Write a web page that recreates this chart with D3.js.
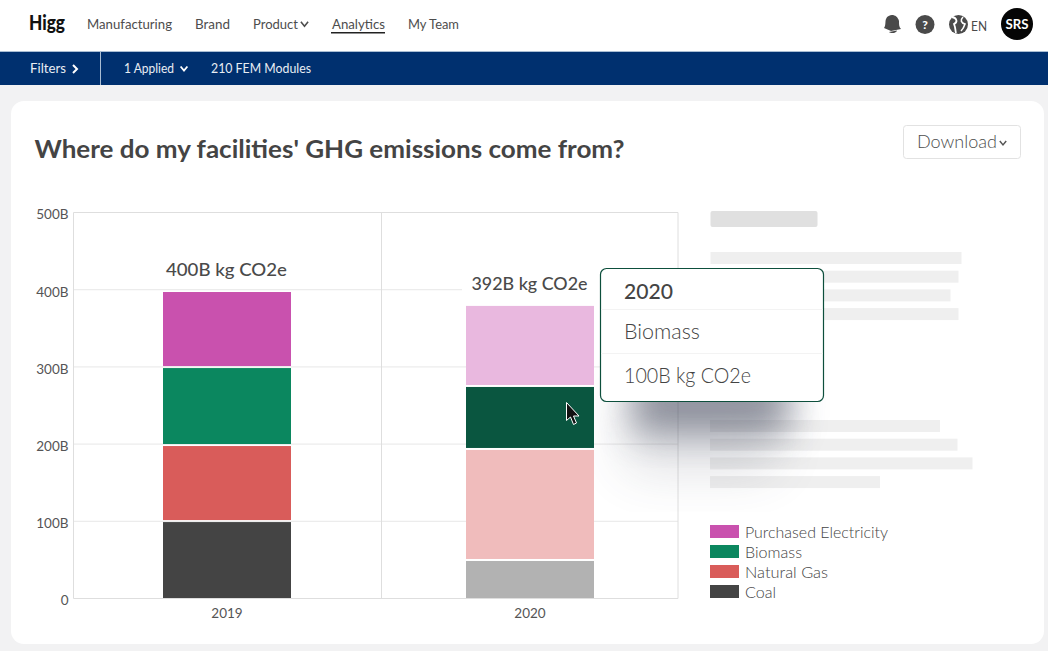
<!DOCTYPE html>
<html><head><meta charset="utf-8">
<script src="https://cdn.jsdelivr.net/npm/d3@7/dist/d3.min.js"></script>
<style>
html,body{margin:0;padding:0;background:#f2f2f3;overflow:hidden}
svg{display:block}
text{font-family:Lato,"Noto Sans",sans-serif}
</style></head><body>
<svg id="c" width="1048" height="651"></svg>
<script>
const years = ["2019","2020"];
const seriesNames = ["Coal","Natural Gas","Biomass","Purchased Electricity"];
const coal = [99, 48.6];
const naturalGas = [98.5, 143.8];
const biomass = [101, 81.6];
const purchasedElectricity = [98.5, 105];
const yTicks = [0,100,200,300,400,500];
const yTickLabels = ["0","100B","200B","300B","400B","500B"];
const totals = ["400B kg CO2e","392B kg CO2e"];
const legendOrder = ["Purchased Electricity","Biomass","Natural Gas","Coal"];
const colors = ["#444444","#d95c5a","#0b875f","#c951ae"];
const dimColors = ["#b2b2b2","#f0bcbc","#0a5640","#e9b8df"];
const navItems = ["Manufacturing","Brand","Product","Analytics","My Team"];

const svg = d3.select("#c");
const ink = "#4a4a4a";

function T(g,x,y,s,o={}){
  const t=g.append("text").attr("x",x).attr("y",y).text(s)
    .attr("font-size",o.size||13).attr("fill",o.fill||ink)
    .attr("font-weight",o.weight||400).attr("text-anchor",o.anchor||"start");
  if(o.len) t.attr("textLength",o.len).attr("lengthAdjust","spacingAndGlyphs");
  return t;
}
function R(g,x,y,w,h,f,r=0){return g.append("rect").attr("x",x).attr("y",y).attr("width",w).attr("height",h).attr("fill",f).attr("rx",r);}
function chevron(g,x,y,s,c,w=1.6){g.append("path").attr("d",`M${x-s},${y-s*0.6}L${x},${y+s*0.6}L${x+s},${y-s*0.6}`).attr("fill","none").attr("stroke",c).attr("stroke-width",w);}

const defs=svg.append("defs");
[["blur",18],["blurWide",26]].forEach(([id,sd])=>defs.append("filter").attr("id",id).attr("x","-60%").attr("y","-60%").attr("width","220%").attr("height","220%")
  .append("feGaussianBlur").attr("stdDeviation",sd));

// page header
const head=svg.append("g");
R(head,0,0,1048,51.5,"#fff");
R(head,0,51,1048,1,"#a9bdd3");
T(head,29,30,"Higg",{size:20,weight:900,fill:"#111",len:36}).attr("font-family","Inter,Lato,sans-serif");
const navX=[87,195,253,332,408], navW=[85,35,45,53,51];
navItems.forEach((n,i)=>T(head,navX[i],29,n,{size:13,fill:"#4d4d4d",len:navW[i]}));
chevron(head,304.5,24,3.6,"#4d4d4d");
R(head,331,32,54,1.5,"#222");

// filter bar
R(head,0,52,1048,33,"#00306f");
R(head,100,52,1,33,"#a9bdd3");
T(head,30,73,"Filters",{size:13,fill:"#e8edf3",len:36});
head.append("path").attr("d","M73,65L77,69L73,73").attr("fill","none").attr("stroke","#fff").attr("stroke-width",2);
T(head,124,73,"1 Applied",{size:13,fill:"#e8edf3",len:50});
chevron(head,184,68.5,3.4,"#fff",1.8);
T(head,211,73,"210 FEM Modules",{size:13,fill:"#e8edf3",len:100});

// icons
const ic=svg.append("g").attr("fill","#4a4a4a");
ic.append("path").attr("d","M884,28C886,26 885,21 886,19C887,16 890,15 892,15C895,15 898,17 899,21C899,25 899,27 901,29L891,31Z");
ic.append("path").attr("d","M889,32L897,30.5C897,33 891,34 889,32Z");
ic.append("circle").attr("cx",925).attr("cy",24.5).attr("r",9.5);
T(svg,925,29,"?",{size:12,weight:900,fill:"#fff",anchor:"middle"});
ic.append("circle").attr("cx",958.5).attr("cy",24.5).attr("r",9.5);
svg.append("path").attr("d","M952,17C957,18 958,22 954,24C956,29 955,30 956,33").attr("fill","none").attr("stroke","#fff").attr("stroke-width",1.8);
svg.append("path").attr("d","M963,17C960,20 961,23 965,24C964,27 963,29 961,31").attr("fill","none").attr("stroke","#fff").attr("stroke-width",1.6);
T(svg,971,31,"EN",{size:13,fill:"#4a4a4a",len:16});
svg.append("circle").attr("cx",1017).attr("cy",24).attr("r",16).attr("fill","#050505");
T(svg,1017,29,"SRS",{size:12.5,weight:700,fill:"#fff",anchor:"middle",len:23});

// card
R(svg,11,101,1033,543,"#fff",13);
T(svg,34.5,158,"Where do my facilities' GHG emissions come from?",{size:25,weight:700,fill:"#444",len:590});
svg.append("rect").attr("x",903.5).attr("y",125.5).attr("width",117).attr("height",33).attr("rx",3)
  .attr("fill","#fff").attr("stroke","#e2e2e2");
T(svg,917,148,"Download",{size:17,weight:300,fill:"#4d4d4d",len:80});
chevron(svg,1003,143,3.2,"#555",1.5);

// placeholder skeleton
const skel=svg.append("g");
R(skel,710.5,211,107,16,"#e0e0e0",2);
[251,248,240,248].forEach((w,i)=>R(skel,710.5,252+i*18.7,w,12,"#efefef"));
[230,247.5,262.5,170].forEach((w,i)=>R(skel,710,420+i*18.7,w,12,"#efefef"));

// scales
const y=d3.scaleLinear().domain([0,500]).range([598.5,212.5]);
const x=d3.scalePoint().domain(years).range([75.5,681.5]).padding(0.5);
const barW=128, plotL=73.5, plotR=678, midX=381.5;

// grid
const plot=svg.append("g");
const yAxis=d3.axisLeft(y).tickValues(yTicks).tickFormat((d,i)=>yTickLabels[i]).tickSize(0).tickPadding(5);
const gy=plot.append("g").attr("transform",`translate(${plotL},2)`).call(yAxis);
gy.select(".domain").remove();
gy.selectAll("text").attr("font-size",13.5).attr("fill","#555").attr("font-family","Lato,sans-serif");
plot.selectAll(".grid").data(yTicks).join("line").attr("class","grid")
  .attr("x1",plotL).attr("x2",plotR).attr("y1",d=>y(d)).attr("y2",d=>y(d))
  .attr("stroke",d=>(d===0||d===500)?"#dedede":"#ececec").attr("stroke-width",1.2);
[plotL,midX,plotR].forEach(v=>plot.append("line").attr("x1",v).attr("x2",v).attr("y1",212.5).attr("y2",598.5).attr("stroke","#dedede"));
const xAxis=d3.axisBottom(x).tickSize(0).tickPadding(10);
const gx=plot.append("g").attr("transform","translate(-0.5,598.5)").call(xAxis);
gx.select(".domain").remove();
gx.selectAll("text").attr("font-size",13.5).attr("fill","#555").attr("font-family","Lato,sans-serif");

// tooltip shadow (under bars, over skeleton)
svg.append("rect").attr("x",632).attr("y",372).attr("width",158).attr("height",60).attr("rx",8)
  .attr("fill","#3d4256").attr("opacity",0.55).attr("filter","url(#blur)");
svg.append("rect").attr("x",625).attr("y",400).attr("width",150).attr("height",70).attr("rx",8)
  .attr("fill","#3d4256").attr("opacity",0.16).attr("filter","url(#blurWide)");

// total labels with white halo
R(svg,462,272,138,24,"#fff");
totals.forEach((t,i)=>T(svg,x(years[i])-0.5,i?290:275.5,t,{size:17,weight:500,fill:"#4a4a4a",anchor:"middle",len:i?116:121}));

// stacked bars
const rows=years.map((yr,i)=>({year:yr,"Coal":coal[i],"Natural Gas":naturalGas[i],"Biomass":biomass[i],"Purchased Electricity":purchasedElectricity[i]}));
const stacked=d3.stack().keys(seriesNames)(rows);
stacked.forEach((s,si)=>{
  svg.append("g").selectAll("rect").data(s).join("rect")
    .attr("x",d=>x(d.data.year)-barW/2).attr("width",barW)
    .attr("y",d=>y(d[1]))
    .attr("height",d=>y(d[0])-y(d[1])-(si?2:0.5))
    .attr("fill",d=>d.data.year==="2020"?dimColors[si]:colors[si]);
});

// cursor
svg.append("path").attr("d","M566.5,402.5L566.5,420.5L570.5,417L573.5,424.5L576.5,423L573.5,416L579,416Z")
  .attr("fill","#111").attr("stroke","#fff").attr("stroke-width",1);

// tooltip
const tip=svg.append("g");
tip.append("rect").attr("x",600.5).attr("y",268.5).attr("width",223).attr("height",133).attr("rx",6)
  .attr("fill","#fff").attr("stroke","#0d4f3c").attr("stroke-width",1.2);
[309.5,353.5].forEach(v=>tip.append("line").attr("x1",601).attr("x2",823).attr("y1",v).attr("y2",v).attr("stroke","#f3f3f3"));
T(tip,624,299,"2020",{size:22,weight:500,fill:"#444",len:49});
T(tip,624,339,"Biomass",{size:21,weight:300,fill:"#444",len:76});
T(tip,624,383,"100B kg CO2e",{size:21,weight:300,fill:"#444",len:127});

// legend
legendOrder.forEach((n,i)=>{
  const c=colors[seriesNames.indexOf(n)], yy=525+i*20;
  R(svg,710,yy,29,13,c);
  T(svg,745,yy+12.5,n,{size:15,weight:300,fill:"#444",len:[143,57,83,31][i]});
});
</script>
</body></html>
